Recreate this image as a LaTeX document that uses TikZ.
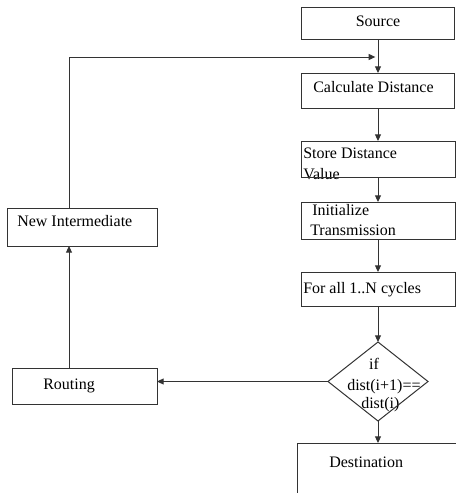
\documentclass[tikz,border=0pt]{standalone}
\usepackage{fontspec}
\setmainfont{Liberation Serif}
\usetikzlibrary{shapes.geometric,arrows.meta}
\begin{document}
\begin{tikzpicture}[x=0.75pt,y=-0.75pt,
  box/.style={draw=black!80,line width=0.75pt,inner sep=0pt,outer sep=0pt},
  dia/.style={draw=black!80,line width=0.75pt,diamond,inner sep=0pt,outer sep=0pt},
  txt/.style={anchor=base west,inner sep=0pt,font=\fontsize{12pt}{14pt}\selectfont},
  ctxt/.style={anchor=base,inner sep=0pt,font=\fontsize{12pt}{14pt}\selectfont},
  line/.style={draw=black!80,line width=0.75pt},
  arrow/.style={line,-{Triangle[length=5pt,width=4.5pt]}}]
\useasboundingbox (0,0) rectangle (456,493);
\clip (0,0) rectangle (456,493);
% text first, boxes drawn over
\node[ctxt] (tsrc) at (378,26) {Source};
\node[txt] (tcalc) at (313,92) {Calculate Distance};
\node[txt] (tstore1) at (303,158) {Store Distance};
\node[txt] (tstore2) at (303,179) {Value};
\node[txt] (tinit1) at (312,215) {Initialize};
\node[txt] (tinit2) at (310,235) {Transmission};
\node[txt] (tfor) at (303,293) {For all 1..N cycles};
\node[ctxt] (tif) at (374,369) {if};
\node[txt] (tcond) at (347,390) {dist(i+1)==};
\node[txt] (tcond2) at (361,408) {dist(i)};
\node[txt] (tdest) at (329,467) {Destination};
\node[txt] (tnew) at (17,226) {New Intermediate};
\node[txt] (trout) at (43,389) {Routing};
% boxes
\node[box,minimum width=114.75pt,minimum height=24pt] (src) at (378,23) {};
\node[box,minimum width=114.75pt,minimum height=26.25pt] (calc) at (378,90.5) {};
\node[box,minimum width=115.5pt,minimum height=27pt] (store) at (378,159) {};
\node[box,minimum width=115.5pt,minimum height=27.75pt] (init) at (378,220.5) {};
\node[box,minimum width=115.5pt,minimum height=25.5pt] (for) at (378,289) {};
\node[dia,minimum width=75pt,minimum height=59.25pt] (cond) at (378,381.5) {};
\node[box,minimum width=129.75pt,minimum height=50.25pt] (dest) at (383.5,476.5) {};
\node[box,minimum width=112.5pt,minimum height=28.5pt] (newint) at (82,227) {};
\node[box,minimum width=108.75pt,minimum height=27pt] (rout) at (84.5,386) {};
% connectors
\coordinate (fbx) at (69,57);
\coordinate (join) at (378,57);
\draw[arrow] (src.south) -- (calc.north);
\draw[arrow] (calc.south) -- (store.north);
\draw[arrow] (store.south) -- (init.north);
\draw[arrow] (init.south) -- (for.north);
\draw[arrow] (for.south) -- (cond.north);
\draw[arrow] (cond.south) -- (dest.north -| cond.south);
\draw[arrow] (cond.west) -- (cond.west -| rout.east);
\draw[arrow] (rout.north -| fbx) -- (newint.south -| fbx);
\draw[arrow] (newint.north -| fbx) -- (fbx) -- ([xshift=-2pt]join);
\end{tikzpicture}
\end{document}
